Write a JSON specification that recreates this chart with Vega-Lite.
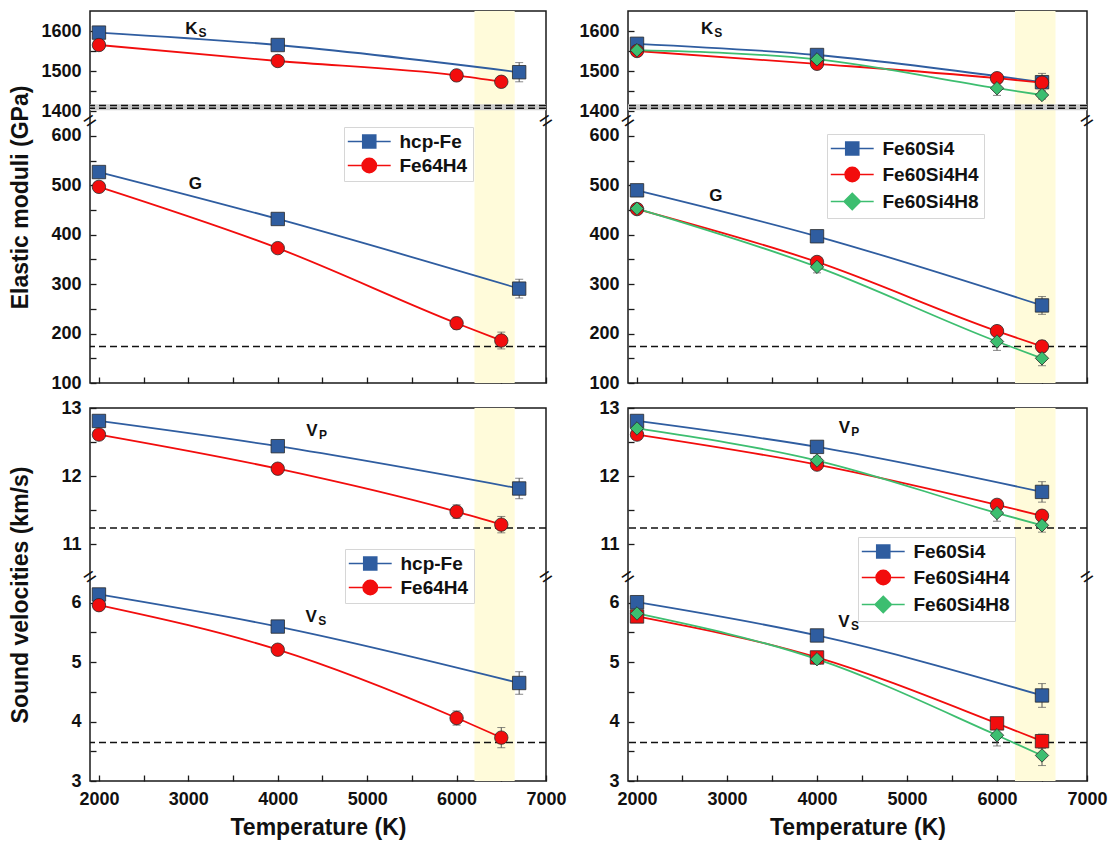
{
  "$schema": "https://vega.github.io/schema/vega-lite/v6.json",
  "background": "white",
  "padding": {"left": 9, "top": 10, "right": 10, "bottom": 5},
  "bounds": "flush",
  "columns": 2,
  "spacing": {"row": 25, "column": 82},
  "config": {
    "view": {"stroke": "#1a1a1a", "strokeWidth": 1.5},
    "axis": {"labelFont": "Liberation Sans", "labelFontSize": 18, "labelFontWeight": "bold", "labelColor": "#111", "titleFont": "Liberation Sans", "titleFontSize": 23, "titleFontWeight": "bold", "titleColor": "#111", "tickColor": "#1a1a1a", "tickWidth": 1.3, "domain": false, "grid": false, "labelFlush": false, "labelOverlap": false, "tickCount": 200},
    "legend": {"labelFont": "Liberation Sans", "labelFontSize": 19, "labelFontWeight": "bold", "labelColor": "#111", "padding": 5, "rowPadding": 3, "symbolSize": 169, "symbolOffset": 10.75, "labelOffset": 20.75, "symbolStrokeWidth": 1.6}
  },
  "resolve": {"scale": {"color": "independent", "shape": "independent", "fill": "independent", "stroke": "independent"}, "legend": {"color": "independent", "shape": "independent", "fill": "independent", "stroke": "independent"}},
  "datasets": {
    "bands": [{"x1": 6200, "x2": 6650}],
    "refs": [
      {"row": "top", "kind": "band", "y1": 1402, "y2": 1417},
      {"row": "top", "kind": "dash", "y1": 1407},
      {"row": "top", "kind": "dash", "y1": 1414},
      {"row": "top", "kind": "dash", "y1": 174},
      {"row": "bot", "kind": "dash", "y1": 11.24},
      {"row": "bot", "kind": "dash", "y1": 3.65}
    ],
    "breaks": [
      {"row": "top", "T": 1900, "v": 1004},
      {"row": "top", "T": 7000, "v": 1004},
      {"row": "bot", "T": 1900, "v": 8.5},
      {"row": "bot", "T": 7000, "v": 8.5}
    ],
    "labels": [
      {"p": "L", "row": "top", "T": 3034, "v": 1606, "main": "K", "sub": "S"},
      {"p": "L", "row": "top", "T": 3077, "v": 502, "main": "G", "sub": ""},
      {"p": "L", "row": "bot", "T": 4383, "v": 12.67, "main": "V", "sub": "P"},
      {"p": "L", "row": "bot", "T": 4375, "v": 5.76, "main": "V", "sub": "S"},
      {"p": "R", "row": "top", "T": 2780, "v": 1606, "main": "K", "sub": "S"},
      {"p": "R", "row": "top", "T": 2876, "v": 478, "main": "G", "sub": ""},
      {"p": "R", "row": "bot", "T": 4304, "v": 12.71, "main": "V", "sub": "P"},
      {"p": "R", "row": "bot", "T": 4300, "v": 5.68, "main": "V", "sub": "S"}
    ],
    "pts": [
      {"p": "L", "q": "Ks", "s": "hcp-Fe", "T": 2000, "v": 1596, "e": 4},
      {"p": "L", "q": "Ks", "s": "hcp-Fe", "T": 4000, "v": 1565, "e": 5},
      {"p": "L", "q": "Ks", "s": "hcp-Fe", "T": 6700, "v": 1497, "e": 24},
      {"p": "L", "q": "G", "s": "hcp-Fe", "T": 2000, "v": 527, "e": 5},
      {"p": "L", "q": "G", "s": "hcp-Fe", "T": 4000, "v": 432, "e": 5},
      {"p": "L", "q": "G", "s": "hcp-Fe", "T": 6700, "v": 291, "e": 19},
      {"p": "L", "q": "Vp", "s": "hcp-Fe", "T": 2000, "v": 12.81, "e": 0.03},
      {"p": "L", "q": "Vp", "s": "hcp-Fe", "T": 4000, "v": 12.44, "e": 0.04},
      {"p": "L", "q": "Vp", "s": "hcp-Fe", "T": 6700, "v": 11.82, "e": 0.15},
      {"p": "L", "q": "Vs", "s": "hcp-Fe", "T": 2000, "v": 6.14, "e": 0.04},
      {"p": "L", "q": "Vs", "s": "hcp-Fe", "T": 4000, "v": 5.6, "e": 0.04},
      {"p": "L", "q": "Vs", "s": "hcp-Fe", "T": 6700, "v": 4.65, "e": 0.19},
      {"p": "L", "q": "Ks", "s": "Fe64H4", "T": 2000, "v": 1565, "e": 5},
      {"p": "L", "q": "Ks", "s": "Fe64H4", "T": 4000, "v": 1525, "e": 5},
      {"p": "L", "q": "Ks", "s": "Fe64H4", "T": 6000, "v": 1489, "e": 8},
      {"p": "L", "q": "Ks", "s": "Fe64H4", "T": 6500, "v": 1473, "e": 12},
      {"p": "L", "q": "G", "s": "Fe64H4", "T": 2000, "v": 497, "e": 5},
      {"p": "L", "q": "G", "s": "Fe64H4", "T": 4000, "v": 373, "e": 8},
      {"p": "L", "q": "G", "s": "Fe64H4", "T": 6000, "v": 221, "e": 12},
      {"p": "L", "q": "G", "s": "Fe64H4", "T": 6500, "v": 186, "e": 17},
      {"p": "L", "q": "Vp", "s": "Fe64H4", "T": 2000, "v": 12.61, "e": 0.04},
      {"p": "L", "q": "Vp", "s": "Fe64H4", "T": 4000, "v": 12.11, "e": 0.05},
      {"p": "L", "q": "Vp", "s": "Fe64H4", "T": 6000, "v": 11.48, "e": 0.1},
      {"p": "L", "q": "Vp", "s": "Fe64H4", "T": 6500, "v": 11.29, "e": 0.12},
      {"p": "L", "q": "Vs", "s": "Fe64H4", "T": 2000, "v": 5.96, "e": 0.06},
      {"p": "L", "q": "Vs", "s": "Fe64H4", "T": 4000, "v": 5.21, "e": 0.06},
      {"p": "L", "q": "Vs", "s": "Fe64H4", "T": 6000, "v": 4.06, "e": 0.12},
      {"p": "L", "q": "Vs", "s": "Fe64H4", "T": 6500, "v": 3.73, "e": 0.17},
      {"p": "R", "q": "Ks", "s": "Fe60Si4", "T": 2000, "v": 1568, "e": 5},
      {"p": "R", "q": "Ks", "s": "Fe60Si4", "T": 4000, "v": 1540, "e": 5},
      {"p": "R", "q": "Ks", "s": "Fe60Si4", "T": 6500, "v": 1472, "e": 22},
      {"p": "R", "q": "G", "s": "Fe60Si4", "T": 2000, "v": 490, "e": 5},
      {"p": "R", "q": "G", "s": "Fe60Si4", "T": 4000, "v": 397, "e": 8},
      {"p": "R", "q": "G", "s": "Fe60Si4", "T": 6500, "v": 257, "e": 18},
      {"p": "R", "q": "Vp", "s": "Fe60Si4", "T": 2000, "v": 12.81, "e": 0.04},
      {"p": "R", "q": "Vp", "s": "Fe60Si4", "T": 4000, "v": 12.43, "e": 0.06},
      {"p": "R", "q": "Vp", "s": "Fe60Si4", "T": 6500, "v": 11.77, "e": 0.15},
      {"p": "R", "q": "Vs", "s": "Fe60Si4", "T": 2000, "v": 6.01, "e": 0.04},
      {"p": "R", "q": "Vs", "s": "Fe60Si4", "T": 4000, "v": 5.45, "e": 0.06},
      {"p": "R", "q": "Vs", "s": "Fe60Si4", "T": 6500, "v": 4.44, "e": 0.2},
      {"p": "R", "q": "Ks", "s": "Fe60Si4H4", "T": 2000, "v": 1550, "e": 5},
      {"p": "R", "q": "Ks", "s": "Fe60Si4H4", "T": 4000, "v": 1518, "e": 6},
      {"p": "R", "q": "Ks", "s": "Fe60Si4H4", "T": 6000, "v": 1482, "e": 6},
      {"p": "R", "q": "Ks", "s": "Fe60Si4H4", "T": 6500, "v": 1471, "e": 10},
      {"p": "R", "q": "G", "s": "Fe60Si4H4", "T": 2000, "v": 452, "e": 5},
      {"p": "R", "q": "G", "s": "Fe60Si4H4", "T": 4000, "v": 345, "e": 8},
      {"p": "R", "q": "G", "s": "Fe60Si4H4", "T": 6000, "v": 205, "e": 10},
      {"p": "R", "q": "G", "s": "Fe60Si4H4", "T": 6500, "v": 174, "e": 12},
      {"p": "R", "q": "Vp", "s": "Fe60Si4H4", "T": 2000, "v": 12.61, "e": 0.04},
      {"p": "R", "q": "Vp", "s": "Fe60Si4H4", "T": 4000, "v": 12.17, "e": 0.05},
      {"p": "R", "q": "Vp", "s": "Fe60Si4H4", "T": 6000, "v": 11.58, "e": 0.06},
      {"p": "R", "q": "Vp", "s": "Fe60Si4H4", "T": 6500, "v": 11.42, "e": 0.08},
      {"p": "R", "q": "Vs", "s": "Fe60Si4H4", "T": 2000, "v": 5.77, "e": 0.05},
      {"p": "R", "q": "Vs", "s": "Fe60Si4H4", "T": 4000, "v": 5.08, "e": 0.06},
      {"p": "R", "q": "Vs", "s": "Fe60Si4H4", "T": 6000, "v": 3.97, "e": 0.1},
      {"p": "R", "q": "Vs", "s": "Fe60Si4H4", "T": 6500, "v": 3.67, "e": 0.12},
      {"p": "R", "q": "Ks", "s": "Fe60Si4H8", "T": 2000, "v": 1552, "e": 5},
      {"p": "R", "q": "Ks", "s": "Fe60Si4H8", "T": 4000, "v": 1529, "e": 6},
      {"p": "R", "q": "Ks", "s": "Fe60Si4H8", "T": 6000, "v": 1457, "e": 18},
      {"p": "R", "q": "Ks", "s": "Fe60Si4H8", "T": 6500, "v": 1440, "e": 10},
      {"p": "R", "q": "G", "s": "Fe60Si4H8", "T": 2000, "v": 453, "e": 6},
      {"p": "R", "q": "G", "s": "Fe60Si4H8", "T": 4000, "v": 335, "e": 12},
      {"p": "R", "q": "G", "s": "Fe60Si4H8", "T": 6000, "v": 184, "e": 18},
      {"p": "R", "q": "G", "s": "Fe60Si4H8", "T": 6500, "v": 150, "e": 15},
      {"p": "R", "q": "Vp", "s": "Fe60Si4H8", "T": 2000, "v": 12.7, "e": 0.05},
      {"p": "R", "q": "Vp", "s": "Fe60Si4H8", "T": 4000, "v": 12.23, "e": 0.06},
      {"p": "R", "q": "Vp", "s": "Fe60Si4H8", "T": 6000, "v": 11.46, "e": 0.12},
      {"p": "R", "q": "Vp", "s": "Fe60Si4H8", "T": 6500, "v": 11.28, "e": 0.1},
      {"p": "R", "q": "Vs", "s": "Fe60Si4H8", "T": 2000, "v": 5.82, "e": 0.05},
      {"p": "R", "q": "Vs", "s": "Fe60Si4H8", "T": 4000, "v": 5.05, "e": 0.08},
      {"p": "R", "q": "Vs", "s": "Fe60Si4H8", "T": 6000, "v": 3.77, "e": 0.18},
      {"p": "R", "q": "Vs", "s": "Fe60Si4H8", "T": 6500, "v": 3.43, "e": 0.17}
    ]
  },
  "concat": [
    {
      "width": 456, "height": 372,
      "resolve": {"scale": {"shape": "independent", "fill": "independent", "stroke": "independent"}},
      "layer": [
        {"data": {"name": "bands"}, "mark": {"type": "rect", "color": "#FFFBDA"},
         "encoding": {"x": {"field": "x1", "type": "quantitative", "scale": {"domain": [1900, 7000], "nice": false, "zero": false},
            "axis": {"values": [2000, 2500, 3000, 3500, 4000, 4500, 5000, 5500, 6000, 6500, 7000], "tickCount": 200, "tickMinStep": 1, "labels": false, "title": null, "tickSize": -6, "encode": {"ticks": {"update": {"y2": {"signal": "datum.value % 1000 === 0 ? -6 : -3"}}}}}},
           "x2": {"field": "x2"}}},
        {"data": {"name": "refs"}, "transform": [{"filter": "datum.row === 'top' && datum.kind === 'band'"}], "mark": {"type": "rect", "color": "#cdcdcd"},
         "encoding": {"y": {"field": "y1", "type": "quantitative", "title": "Elastic moduli (GPa)", "scale": {"domain": [100, 620, 1388, 1650], "range": [372, 115.1, 104.8, 0], "nice": false, "zero": false},
            "axis": {"values": [100, 150, 200, 250, 300, 350, 400, 450, 500, 550, 600, 1400, 1450, 1500, 1550, 1600], "tickCount": 200, "tickMinStep": 1, "format": "d", "labelExpr": "datum.value % 100 === 0 ? datum.label : ''", "tickSize": -6, "labelPadding": 15, "title": "Elastic moduli (GPa)", "titlePadding": 8, "encode": {"ticks": {"update": {"x2": {"signal": "datum.value % 100 === 0 ? 6 : 3"}}}}}},
           "y2": {"field": "y2"}}},
        {"data": {"name": "refs"}, "transform": [{"filter": "datum.row === 'top' && datum.kind === 'dash'"}], "mark": {"type": "rule", "color": "#111", "strokeWidth": 1.5, "strokeDash": [7, 4]},
         "encoding": {"y": {"field": "y1", "type": "quantitative", "title": "Elastic moduli (GPa)", "scale": {"domain": [100, 620, 1388, 1650], "range": [372, 115.1, 104.8, 0], "nice": false, "zero": false}}}},
        {"data": {"name": "pts"}, "transform": [{"filter": "datum.p === 'L' && (datum.q === 'Ks' || datum.q === 'G')"}], "mark": {"type": "errorbar", "ticks": {"size": 8}, "color": "#555", "thickness": 1},
         "encoding": {"x": {"field": "T", "type": "quantitative", "scale": {"domain": [1900, 7000], "nice": false, "zero": false}}, "y": {"field": "v", "type": "quantitative", "title": "Elastic moduli (GPa)", "scale": {"domain": [100, 620, 1388, 1650], "range": [372, 115.1, 104.8, 0], "nice": false, "zero": false}}, "yError": {"field": "e"}}},
        {"data": {"name": "pts"}, "transform": [{"filter": "datum.p === 'L' && (datum.q === 'Ks' || datum.q === 'G')"}], "mark": {"type": "line", "interpolate": "monotone", "strokeWidth": 1.8},
         "encoding": {"x": {"field": "T", "type": "quantitative", "scale": {"domain": [1900, 7000], "nice": false, "zero": false}}, "y": {"field": "v", "type": "quantitative", "title": "Elastic moduli (GPa)", "scale": {"domain": [100, 620, 1388, 1650], "range": [372, 115.1, 104.8, 0], "nice": false, "zero": false}}, "detail": {"field": "q"},
           "color": {"field": "s", "type": "nominal", "scale": {"domain": ["hcp-Fe", "Fe64H4"], "range": ["#2F5DA0", "#F20D0D"]}, "legend": null}}},
        {"data": {"name": "pts"}, "transform": [{"filter": "datum.p === 'L' && (datum.q === 'Ks' || datum.q === 'G')"}], "mark": {"type": "point", "filled": true, "size": 180, "stroke": "#2a2a2a", "strokeWidth": 0.8, "opacity": 1},
         "encoding": {"x": {"field": "T", "type": "quantitative", "scale": {"domain": [1900, 7000], "nice": false, "zero": false}}, "y": {"field": "v", "type": "quantitative", "title": "Elastic moduli (GPa)", "scale": {"domain": [100, 620, 1388, 1650], "range": [372, 115.1, 104.8, 0], "nice": false, "zero": false}},
           "color": {"field": "s", "type": "nominal", "scale": {"domain": ["hcp-Fe", "Fe64H4"], "range": ["#2F5DA0", "#F20D0D"]}, "legend": null},
           "shape": {"field": "s", "type": "nominal", "scale": {"domain": ["hcp-Fe", "Fe64H4"], "range": ["square", "circle"]}, "legend": null}}},
        {"data": {"name": "pts"}, "transform": [{"filter": "false"}], "mark": {"type": "point", "filled": true, "size": 169, "strokeWidth": 1.6, "opacity": 1},
         "encoding": {
           "fill": {"field": "s", "type": "nominal", "scale": {"domain": ["hcp-Fe", "Fe64H4"], "range": ["#2F5DA0", "#F20D0D"]}, "legend": {"title": null, "orient": "none", "legendX": 254, "legendY": 116, "fillColor": "white", "strokeColor": "#d6d6d6"}},
           "stroke": {"field": "s", "type": "nominal", "scale": {"domain": ["hcp-Fe", "Fe64H4"], "range": ["#2F5DA0", "#F20D0D"]}, "legend": {"title": null, "orient": "none", "legendX": 254, "legendY": 116, "fillColor": "white", "strokeColor": "#d6d6d6"}},
           "shape": {"field": "s", "type": "nominal", "scale": {"domain": ["hcp-Fe", "Fe64H4"], "range": ["M-3.3,0H-1M1,0H3.3M-1,-1H1V1H-1Z", "M-3.3,0H-1.1M1.1,0H3.3M-1.1,0A1.1,1.1 0 1,1 1.1,0A1.1,1.1 0 1,1 -1.1,0Z"]}, "legend": {"title": null, "orient": "none", "legendX": 254, "legendY": 116, "fillColor": "white", "strokeColor": "#d6d6d6"}}}},
        {"data": {"name": "labels"}, "transform": [{"filter": "datum.p === 'L' && datum.row === 'top'"}], "mark": {"type": "text", "font": "Liberation Sans", "fontWeight": "bold", "fontSize": 17, "align": "center", "baseline": "middle", "color": "#111"},
         "encoding": {"x": {"field": "T", "type": "quantitative", "scale": {"domain": [1900, 7000], "nice": false, "zero": false}}, "y": {"field": "v", "type": "quantitative", "title": "Elastic moduli (GPa)", "scale": {"domain": [100, 620, 1388, 1650], "range": [372, 115.1, 104.8, 0], "nice": false, "zero": false}}, "text": {"field": "main"}}},
        {"data": {"name": "labels"}, "transform": [{"filter": "datum.p === 'L' && datum.row === 'top'"}], "mark": {"type": "text", "font": "Liberation Sans", "fontWeight": "bold", "fontSize": 12, "align": "center", "baseline": "middle", "color": "#111", "dx": 11, "dy": 4},
         "encoding": {"x": {"field": "T", "type": "quantitative", "scale": {"domain": [1900, 7000], "nice": false, "zero": false}}, "y": {"field": "v", "type": "quantitative", "title": "Elastic moduli (GPa)", "scale": {"domain": [100, 620, 1388, 1650], "range": [372, 115.1, 104.8, 0], "nice": false, "zero": false}}, "text": {"field": "sub"}}},
        {"data": {"name": "breaks"}, "transform": [{"filter": "datum.row === 'top'"}], "mark": {"type": "text", "text": "=", "font": "Liberation Sans", "fontSize": 22, "angle": 325, "align": "center", "baseline": "middle", "color": "#111"},
         "encoding": {"x": {"field": "T", "type": "quantitative", "scale": {"domain": [1900, 7000], "nice": false, "zero": false}}, "y": {"field": "v", "type": "quantitative", "title": "Elastic moduli (GPa)", "scale": {"domain": [100, 620, 1388, 1650], "range": [372, 115.1, 104.8, 0], "nice": false, "zero": false}}}}
      ]
    },
    {
      "width": 459, "height": 372,
      "resolve": {"scale": {"shape": "independent", "fill": "independent", "stroke": "independent"}},
      "layer": [
        {"data": {"name": "bands"}, "mark": {"type": "rect", "color": "#FFFBDA"},
         "encoding": {"x": {"field": "x1", "type": "quantitative", "scale": {"domain": [1900, 7000], "nice": false, "zero": false},
            "axis": {"values": [2000, 2500, 3000, 3500, 4000, 4500, 5000, 5500, 6000, 6500, 7000], "tickCount": 200, "tickMinStep": 1, "labels": false, "title": null, "tickSize": -6, "encode": {"ticks": {"update": {"y2": {"signal": "datum.value % 1000 === 0 ? -6 : -3"}}}}}},
           "x2": {"field": "x2"}}},
        {"data": {"name": "refs"}, "transform": [{"filter": "datum.row === 'top' && datum.kind === 'band'"}], "mark": {"type": "rect", "color": "#cdcdcd"},
         "encoding": {"y": {"field": "y1", "type": "quantitative", "title": null, "scale": {"domain": [100, 620, 1388, 1650], "range": [372, 115.1, 104.8, 0], "nice": false, "zero": false},
            "axis": {"values": [100, 150, 200, 250, 300, 350, 400, 450, 500, 550, 600, 1400, 1450, 1500, 1550, 1600], "tickCount": 200, "tickMinStep": 1, "format": "d", "labelExpr": "datum.value % 100 === 0 ? datum.label : ''", "tickSize": -6, "labelPadding": 15, "title": null, "encode": {"ticks": {"update": {"x2": {"signal": "datum.value % 100 === 0 ? 6 : 3"}}}}}},
           "y2": {"field": "y2"}}},
        {"data": {"name": "refs"}, "transform": [{"filter": "datum.row === 'top' && datum.kind === 'dash'"}], "mark": {"type": "rule", "color": "#111", "strokeWidth": 1.5, "strokeDash": [7, 4]},
         "encoding": {"y": {"field": "y1", "type": "quantitative", "title": null, "scale": {"domain": [100, 620, 1388, 1650], "range": [372, 115.1, 104.8, 0], "nice": false, "zero": false}}}},
        {"data": {"name": "pts"}, "transform": [{"filter": "datum.p === 'R' && (datum.q === 'Ks' || datum.q === 'G')"}], "mark": {"type": "errorbar", "ticks": {"size": 8}, "color": "#555", "thickness": 1},
         "encoding": {"x": {"field": "T", "type": "quantitative", "scale": {"domain": [1900, 7000], "nice": false, "zero": false}}, "y": {"field": "v", "type": "quantitative", "title": null, "scale": {"domain": [100, 620, 1388, 1650], "range": [372, 115.1, 104.8, 0], "nice": false, "zero": false}}, "yError": {"field": "e"}}},
        {"data": {"name": "pts"}, "transform": [{"filter": "datum.p === 'R' && (datum.q === 'Ks' || datum.q === 'G')"}], "mark": {"type": "line", "interpolate": "monotone", "strokeWidth": 1.8},
         "encoding": {"x": {"field": "T", "type": "quantitative", "scale": {"domain": [1900, 7000], "nice": false, "zero": false}}, "y": {"field": "v", "type": "quantitative", "title": null, "scale": {"domain": [100, 620, 1388, 1650], "range": [372, 115.1, 104.8, 0], "nice": false, "zero": false}}, "detail": {"field": "q"},
           "color": {"field": "s", "type": "nominal", "scale": {"domain": ["Fe60Si4", "Fe60Si4H4", "Fe60Si4H8"], "range": ["#2F5DA0", "#F20D0D", "#3DBE70"]}, "legend": null}}},
        {"data": {"name": "pts"}, "transform": [{"filter": "datum.p === 'R' && (datum.q === 'Ks' || datum.q === 'G')"}], "mark": {"type": "point", "filled": true, "size": 180, "stroke": "#2a2a2a", "strokeWidth": 0.8, "opacity": 1},
         "encoding": {"x": {"field": "T", "type": "quantitative", "scale": {"domain": [1900, 7000], "nice": false, "zero": false}}, "y": {"field": "v", "type": "quantitative", "title": null, "scale": {"domain": [100, 620, 1388, 1650], "range": [372, 115.1, 104.8, 0], "nice": false, "zero": false}},
           "color": {"field": "s", "type": "nominal", "scale": {"domain": ["Fe60Si4", "Fe60Si4H4", "Fe60Si4H8"], "range": ["#2F5DA0", "#F20D0D", "#3DBE70"]}, "legend": null},
           "shape": {"field": "s", "type": "nominal", "scale": {"domain": ["Fe60Si4", "Fe60Si4H4", "Fe60Si4H8"], "range": ["square", "circle", "diamond"]}, "legend": null}}},
        {"data": {"name": "pts"}, "transform": [{"filter": "false"}], "mark": {"type": "point", "filled": true, "size": 169, "strokeWidth": 1.6, "opacity": 1},
         "encoding": {
           "fill": {"field": "s", "type": "nominal", "scale": {"domain": ["Fe60Si4", "Fe60Si4H4", "Fe60Si4H8"], "range": ["#2F5DA0", "#F20D0D", "#3DBE70"]}, "legend": {"title": null, "orient": "none", "legendX": 199, "legendY": 123, "rowPadding": 5, "fillColor": "white", "strokeColor": "#d6d6d6"}},
           "stroke": {"field": "s", "type": "nominal", "scale": {"domain": ["Fe60Si4", "Fe60Si4H4", "Fe60Si4H8"], "range": ["#2F5DA0", "#F20D0D", "#3DBE70"]}, "legend": {"title": null, "orient": "none", "legendX": 199, "legendY": 123, "rowPadding": 5, "fillColor": "white", "strokeColor": "#d6d6d6"}},
           "shape": {"field": "s", "type": "nominal", "scale": {"domain": ["Fe60Si4", "Fe60Si4H4", "Fe60Si4H8"], "range": ["M-3.3,0H-1M1,0H3.3M-1,-1H1V1H-1Z", "M-3.3,0H-1.1M1.1,0H3.3M-1.1,0A1.1,1.1 0 1,1 1.1,0A1.1,1.1 0 1,1 -1.1,0Z", "M-3.3,0H-1.25M1.25,0H3.3M0,-1.25L1.25,0L0,1.25L-1.25,0Z"]}, "legend": {"title": null, "orient": "none", "legendX": 199, "legendY": 123, "rowPadding": 5, "fillColor": "white", "strokeColor": "#d6d6d6"}}}},
        {"data": {"name": "labels"}, "transform": [{"filter": "datum.p === 'R' && datum.row === 'top'"}], "mark": {"type": "text", "font": "Liberation Sans", "fontWeight": "bold", "fontSize": 17, "align": "center", "baseline": "middle", "color": "#111"},
         "encoding": {"x": {"field": "T", "type": "quantitative", "scale": {"domain": [1900, 7000], "nice": false, "zero": false}}, "y": {"field": "v", "type": "quantitative", "title": null, "scale": {"domain": [100, 620, 1388, 1650], "range": [372, 115.1, 104.8, 0], "nice": false, "zero": false}}, "text": {"field": "main"}}},
        {"data": {"name": "labels"}, "transform": [{"filter": "datum.p === 'R' && datum.row === 'top'"}], "mark": {"type": "text", "font": "Liberation Sans", "fontWeight": "bold", "fontSize": 12, "align": "center", "baseline": "middle", "color": "#111", "dx": 11, "dy": 4},
         "encoding": {"x": {"field": "T", "type": "quantitative", "scale": {"domain": [1900, 7000], "nice": false, "zero": false}}, "y": {"field": "v", "type": "quantitative", "title": null, "scale": {"domain": [100, 620, 1388, 1650], "range": [372, 115.1, 104.8, 0], "nice": false, "zero": false}}, "text": {"field": "sub"}}},
        {"data": {"name": "breaks"}, "transform": [{"filter": "datum.row === 'top'"}], "mark": {"type": "text", "text": "=", "font": "Liberation Sans", "fontSize": 22, "angle": 325, "align": "center", "baseline": "middle", "color": "#111"},
         "encoding": {"x": {"field": "T", "type": "quantitative", "scale": {"domain": [1900, 7000], "nice": false, "zero": false}}, "y": {"field": "v", "type": "quantitative", "title": null, "scale": {"domain": [100, 620, 1388, 1650], "range": [372, 115.1, 104.8, 0], "nice": false, "zero": false}}}}
      ]
    },
    {
      "width": 456, "height": 373,
      "resolve": {"scale": {"shape": "independent", "fill": "independent", "stroke": "independent"}},
      "layer": [
        {"data": {"name": "bands"}, "mark": {"type": "rect", "color": "#FFFBDA"},
         "encoding": {"x": {"field": "x1", "type": "quantitative", "title": "Temperature (K)", "scale": {"domain": [1900, 7000], "nice": false, "zero": false},
            "axis": {"values": [2000, 2500, 3000, 3500, 4000, 4500, 5000, 5500, 6000, 6500, 7000], "tickCount": 200, "tickMinStep": 1, "format": "d", "labelExpr": "datum.value % 1000 === 0 ? datum.label : ''", "tickSize": -6, "labelPadding": 15, "title": "Temperature (K)", "titlePadding": 8, "encode": {"ticks": {"update": {"y2": {"signal": "datum.value % 1000 === 0 ? -6 : -3"}}}}}},
           "x2": {"field": "x2"}}},
        {"data": {"name": "refs"}, "transform": [{"filter": "datum.row === 'bot' && datum.kind === 'dash'"}], "mark": {"type": "rule", "color": "#111", "strokeWidth": 1.5, "strokeDash": [7, 4]},
         "encoding": {"y": {"field": "y1", "type": "quantitative", "title": "Sound velocities (km/s)", "scale": {"domain": [3, 6.35, 10.6, 13], "range": [373, 174, 163.7, 0], "nice": false, "zero": false},
            "axis": {"values": [3, 3.5, 4, 4.5, 5, 5.5, 6, 11, 11.5, 12, 12.5, 13], "tickCount": 200, "tickMinStep": 0.1, "format": ".1f", "labelExpr": "datum.value % 1 === 0 ? format(datum.value, 'd') : ''", "tickSize": -6, "labelPadding": 15, "title": "Sound velocities (km/s)", "titlePadding": 28, "encode": {"ticks": {"update": {"x2": {"signal": "datum.value % 1 === 0 ? 6 : 3"}}}}}}}},
        {"data": {"name": "pts"}, "transform": [{"filter": "datum.p === 'L' && (datum.q === 'Vp' || datum.q === 'Vs')"}], "mark": {"type": "errorbar", "ticks": {"size": 8}, "color": "#555", "thickness": 1},
         "encoding": {"x": {"field": "T", "type": "quantitative", "title": "Temperature (K)", "scale": {"domain": [1900, 7000], "nice": false, "zero": false}}, "y": {"field": "v", "type": "quantitative", "title": "Sound velocities (km/s)", "scale": {"domain": [3, 6.35, 10.6, 13], "range": [373, 174, 163.7, 0], "nice": false, "zero": false}}, "yError": {"field": "e"}}},
        {"data": {"name": "pts"}, "transform": [{"filter": "datum.p === 'L' && (datum.q === 'Vp' || datum.q === 'Vs')"}], "mark": {"type": "line", "interpolate": "monotone", "strokeWidth": 1.8},
         "encoding": {"x": {"field": "T", "type": "quantitative", "title": "Temperature (K)", "scale": {"domain": [1900, 7000], "nice": false, "zero": false}}, "y": {"field": "v", "type": "quantitative", "title": "Sound velocities (km/s)", "scale": {"domain": [3, 6.35, 10.6, 13], "range": [373, 174, 163.7, 0], "nice": false, "zero": false}}, "detail": {"field": "q"},
           "color": {"field": "s", "type": "nominal", "scale": {"domain": ["hcp-Fe", "Fe64H4"], "range": ["#2F5DA0", "#F20D0D"]}, "legend": null}}},
        {"data": {"name": "pts"}, "transform": [{"filter": "datum.p === 'L' && (datum.q === 'Vp' || datum.q === 'Vs')"}], "mark": {"type": "point", "filled": true, "size": 180, "stroke": "#2a2a2a", "strokeWidth": 0.8, "opacity": 1},
         "encoding": {"x": {"field": "T", "type": "quantitative", "title": "Temperature (K)", "scale": {"domain": [1900, 7000], "nice": false, "zero": false}}, "y": {"field": "v", "type": "quantitative", "title": "Sound velocities (km/s)", "scale": {"domain": [3, 6.35, 10.6, 13], "range": [373, 174, 163.7, 0], "nice": false, "zero": false}},
           "color": {"field": "s", "type": "nominal", "scale": {"domain": ["hcp-Fe", "Fe64H4"], "range": ["#2F5DA0", "#F20D0D"]}, "legend": null},
           "shape": {"field": "s", "type": "nominal", "scale": {"domain": ["hcp-Fe", "Fe64H4"], "range": ["square", "circle"]}, "legend": null}}},
        {"data": {"name": "pts"}, "transform": [{"filter": "false"}], "mark": {"type": "point", "filled": true, "size": 169, "strokeWidth": 1.6, "opacity": 1},
         "encoding": {
           "fill": {"field": "s", "type": "nominal", "scale": {"domain": ["hcp-Fe", "Fe64H4"], "range": ["#2F5DA0", "#F20D0D"]}, "legend": {"title": null, "orient": "none", "legendX": 255, "legendY": 141, "fillColor": "white", "strokeColor": "#d6d6d6"}},
           "stroke": {"field": "s", "type": "nominal", "scale": {"domain": ["hcp-Fe", "Fe64H4"], "range": ["#2F5DA0", "#F20D0D"]}, "legend": {"title": null, "orient": "none", "legendX": 255, "legendY": 141, "fillColor": "white", "strokeColor": "#d6d6d6"}},
           "shape": {"field": "s", "type": "nominal", "scale": {"domain": ["hcp-Fe", "Fe64H4"], "range": ["M-3.3,0H-1M1,0H3.3M-1,-1H1V1H-1Z", "M-3.3,0H-1.1M1.1,0H3.3M-1.1,0A1.1,1.1 0 1,1 1.1,0A1.1,1.1 0 1,1 -1.1,0Z"]}, "legend": {"title": null, "orient": "none", "legendX": 255, "legendY": 141, "fillColor": "white", "strokeColor": "#d6d6d6"}}}},
        {"data": {"name": "labels"}, "transform": [{"filter": "datum.p === 'L' && datum.row === 'bot'"}], "mark": {"type": "text", "font": "Liberation Sans", "fontWeight": "bold", "fontSize": 17, "align": "center", "baseline": "middle", "color": "#111"},
         "encoding": {"x": {"field": "T", "type": "quantitative", "title": "Temperature (K)", "scale": {"domain": [1900, 7000], "nice": false, "zero": false}}, "y": {"field": "v", "type": "quantitative", "title": "Sound velocities (km/s)", "scale": {"domain": [3, 6.35, 10.6, 13], "range": [373, 174, 163.7, 0], "nice": false, "zero": false}}, "text": {"field": "main"}}},
        {"data": {"name": "labels"}, "transform": [{"filter": "datum.p === 'L' && datum.row === 'bot'"}], "mark": {"type": "text", "font": "Liberation Sans", "fontWeight": "bold", "fontSize": 12, "align": "center", "baseline": "middle", "color": "#111", "dx": 11, "dy": 4},
         "encoding": {"x": {"field": "T", "type": "quantitative", "title": "Temperature (K)", "scale": {"domain": [1900, 7000], "nice": false, "zero": false}}, "y": {"field": "v", "type": "quantitative", "title": "Sound velocities (km/s)", "scale": {"domain": [3, 6.35, 10.6, 13], "range": [373, 174, 163.7, 0], "nice": false, "zero": false}}, "text": {"field": "sub"}}},
        {"data": {"name": "breaks"}, "transform": [{"filter": "datum.row === 'bot'"}], "mark": {"type": "text", "text": "=", "font": "Liberation Sans", "fontSize": 22, "angle": 325, "align": "center", "baseline": "middle", "color": "#111"},
         "encoding": {"x": {"field": "T", "type": "quantitative", "title": "Temperature (K)", "scale": {"domain": [1900, 7000], "nice": false, "zero": false}}, "y": {"field": "v", "type": "quantitative", "title": "Sound velocities (km/s)", "scale": {"domain": [3, 6.35, 10.6, 13], "range": [373, 174, 163.7, 0], "nice": false, "zero": false}}}}
      ]
    },
    {
      "width": 459, "height": 373,
      "resolve": {"scale": {"shape": "independent", "fill": "independent", "stroke": "independent"}},
      "layer": [
        {"data": {"name": "bands"}, "mark": {"type": "rect", "color": "#FFFBDA"},
         "encoding": {"x": {"field": "x1", "type": "quantitative", "title": "Temperature (K)", "scale": {"domain": [1900, 7000], "nice": false, "zero": false},
            "axis": {"values": [2000, 2500, 3000, 3500, 4000, 4500, 5000, 5500, 6000, 6500, 7000], "tickCount": 200, "tickMinStep": 1, "format": "d", "labelExpr": "datum.value % 1000 === 0 ? datum.label : ''", "tickSize": -6, "labelPadding": 15, "title": "Temperature (K)", "titlePadding": 8, "encode": {"ticks": {"update": {"y2": {"signal": "datum.value % 1000 === 0 ? -6 : -3"}}}}}},
           "x2": {"field": "x2"}}},
        {"data": {"name": "refs"}, "transform": [{"filter": "datum.row === 'bot' && datum.kind === 'dash'"}], "mark": {"type": "rule", "color": "#111", "strokeWidth": 1.5, "strokeDash": [7, 4]},
         "encoding": {"y": {"field": "y1", "type": "quantitative", "title": null, "scale": {"domain": [3, 6.35, 10.6, 13], "range": [373, 174, 163.7, 0], "nice": false, "zero": false},
            "axis": {"values": [3, 3.5, 4, 4.5, 5, 5.5, 6, 11, 11.5, 12, 12.5, 13], "tickCount": 200, "tickMinStep": 0.1, "format": ".1f", "labelExpr": "datum.value % 1 === 0 ? format(datum.value, 'd') : ''", "tickSize": -6, "labelPadding": 15, "title": null, "encode": {"ticks": {"update": {"x2": {"signal": "datum.value % 1 === 0 ? 6 : 3"}}}}}}}},
        {"data": {"name": "pts"}, "transform": [{"filter": "datum.p === 'R' && (datum.q === 'Vp' || datum.q === 'Vs')"}], "mark": {"type": "errorbar", "ticks": {"size": 8}, "color": "#555", "thickness": 1},
         "encoding": {"x": {"field": "T", "type": "quantitative", "title": "Temperature (K)", "scale": {"domain": [1900, 7000], "nice": false, "zero": false}}, "y": {"field": "v", "type": "quantitative", "title": null, "scale": {"domain": [3, 6.35, 10.6, 13], "range": [373, 174, 163.7, 0], "nice": false, "zero": false}}, "yError": {"field": "e"}}},
        {"data": {"name": "pts"}, "transform": [{"filter": "datum.p === 'R' && (datum.q === 'Vp' || datum.q === 'Vs')"}], "mark": {"type": "line", "interpolate": "monotone", "strokeWidth": 1.8},
         "encoding": {"x": {"field": "T", "type": "quantitative", "title": "Temperature (K)", "scale": {"domain": [1900, 7000], "nice": false, "zero": false}}, "y": {"field": "v", "type": "quantitative", "title": null, "scale": {"domain": [3, 6.35, 10.6, 13], "range": [373, 174, 163.7, 0], "nice": false, "zero": false}}, "detail": {"field": "q"},
           "color": {"field": "s", "type": "nominal", "scale": {"domain": ["Fe60Si4", "Fe60Si4H4", "Fe60Si4H8"], "range": ["#2F5DA0", "#F20D0D", "#3DBE70"]}, "legend": null}}},
        {"data": {"name": "pts"}, "transform": [{"filter": "datum.p === 'R' && datum.q === 'Vs' && datum.s === 'Fe60Si4H4'"}], "mark": {"type": "point", "filled": true, "shape": "square", "fill": "#F20D0D", "size": 180, "stroke": "#2a2a2a", "strokeWidth": 0.8, "opacity": 1},
         "encoding": {"x": {"field": "T", "type": "quantitative", "title": "Temperature (K)", "scale": {"domain": [1900, 7000], "nice": false, "zero": false}}, "y": {"field": "v", "type": "quantitative", "title": null, "scale": {"domain": [3, 6.35, 10.6, 13], "range": [373, 174, 163.7, 0], "nice": false, "zero": false}}}},
        {"data": {"name": "pts"}, "transform": [{"filter": "datum.p === 'R' && (datum.q === 'Vp' || datum.q === 'Vs') && !(datum.q === 'Vs' && datum.s === 'Fe60Si4H4')"}], "mark": {"type": "point", "filled": true, "size": 180, "stroke": "#2a2a2a", "strokeWidth": 0.8, "opacity": 1},
         "encoding": {"x": {"field": "T", "type": "quantitative", "title": "Temperature (K)", "scale": {"domain": [1900, 7000], "nice": false, "zero": false}}, "y": {"field": "v", "type": "quantitative", "title": null, "scale": {"domain": [3, 6.35, 10.6, 13], "range": [373, 174, 163.7, 0], "nice": false, "zero": false}},
           "color": {"field": "s", "type": "nominal", "scale": {"domain": ["Fe60Si4", "Fe60Si4H4", "Fe60Si4H8"], "range": ["#2F5DA0", "#F20D0D", "#3DBE70"]}, "legend": null},
           "shape": {"field": "s", "type": "nominal", "scale": {"domain": ["Fe60Si4", "Fe60Si4H4", "Fe60Si4H8"], "range": ["square", "circle", "diamond"]}, "legend": null}}},
        {"data": {"name": "pts"}, "transform": [{"filter": "false"}], "mark": {"type": "point", "filled": true, "size": 169, "strokeWidth": 1.6, "opacity": 1},
         "encoding": {
           "fill": {"field": "s", "type": "nominal", "scale": {"domain": ["Fe60Si4", "Fe60Si4H4", "Fe60Si4H8"], "range": ["#2F5DA0", "#F20D0D", "#3DBE70"]}, "legend": {"title": null, "orient": "none", "legendX": 230, "legendY": 129, "rowPadding": 5, "fillColor": "white", "strokeColor": "#d6d6d6"}},
           "stroke": {"field": "s", "type": "nominal", "scale": {"domain": ["Fe60Si4", "Fe60Si4H4", "Fe60Si4H8"], "range": ["#2F5DA0", "#F20D0D", "#3DBE70"]}, "legend": {"title": null, "orient": "none", "legendX": 230, "legendY": 129, "rowPadding": 5, "fillColor": "white", "strokeColor": "#d6d6d6"}},
           "shape": {"field": "s", "type": "nominal", "scale": {"domain": ["Fe60Si4", "Fe60Si4H4", "Fe60Si4H8"], "range": ["M-3.3,0H-1M1,0H3.3M-1,-1H1V1H-1Z", "M-3.3,0H-1.1M1.1,0H3.3M-1.1,0A1.1,1.1 0 1,1 1.1,0A1.1,1.1 0 1,1 -1.1,0Z", "M-3.3,0H-1.25M1.25,0H3.3M0,-1.25L1.25,0L0,1.25L-1.25,0Z"]}, "legend": {"title": null, "orient": "none", "legendX": 230, "legendY": 129, "rowPadding": 5, "fillColor": "white", "strokeColor": "#d6d6d6"}}}},
        {"data": {"name": "labels"}, "transform": [{"filter": "datum.p === 'R' && datum.row === 'bot'"}], "mark": {"type": "text", "font": "Liberation Sans", "fontWeight": "bold", "fontSize": 17, "align": "center", "baseline": "middle", "color": "#111"},
         "encoding": {"x": {"field": "T", "type": "quantitative", "title": "Temperature (K)", "scale": {"domain": [1900, 7000], "nice": false, "zero": false}}, "y": {"field": "v", "type": "quantitative", "title": null, "scale": {"domain": [3, 6.35, 10.6, 13], "range": [373, 174, 163.7, 0], "nice": false, "zero": false}}, "text": {"field": "main"}}},
        {"data": {"name": "labels"}, "transform": [{"filter": "datum.p === 'R' && datum.row === 'bot'"}], "mark": {"type": "text", "font": "Liberation Sans", "fontWeight": "bold", "fontSize": 12, "align": "center", "baseline": "middle", "color": "#111", "dx": 11, "dy": 4},
         "encoding": {"x": {"field": "T", "type": "quantitative", "title": "Temperature (K)", "scale": {"domain": [1900, 7000], "nice": false, "zero": false}}, "y": {"field": "v", "type": "quantitative", "title": null, "scale": {"domain": [3, 6.35, 10.6, 13], "range": [373, 174, 163.7, 0], "nice": false, "zero": false}}, "text": {"field": "sub"}}},
        {"data": {"name": "breaks"}, "transform": [{"filter": "datum.row === 'bot'"}], "mark": {"type": "text", "text": "=", "font": "Liberation Sans", "fontSize": 22, "angle": 325, "align": "center", "baseline": "middle", "color": "#111"},
         "encoding": {"x": {"field": "T", "type": "quantitative", "title": "Temperature (K)", "scale": {"domain": [1900, 7000], "nice": false, "zero": false}}, "y": {"field": "v", "type": "quantitative", "title": null, "scale": {"domain": [3, 6.35, 10.6, 13], "range": [373, 174, 163.7, 0], "nice": false, "zero": false}}}}
      ]
    }
  ]
}
